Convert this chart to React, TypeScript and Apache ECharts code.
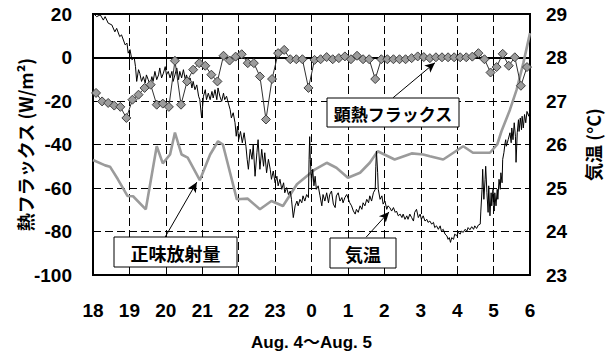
import { useEffect, useRef } from "react";
import * as echarts from "echarts";

// Sensible heat flux (W/m2), 10-minute means, time in minutes after 18:00
const sensibleMinutes = [
  5, 15, 25, 35, 45, 55, 65, 75, 85, 95, 105, 115, 125, 135, 145, 155, 165, 175,
  185, 195, 205, 215, 225, 235, 245, 255, 265, 275, 285, 295, 305, 315, 325, 335,
  345, 355, 365, 375, 385, 395, 405, 415, 425, 435, 445, 455, 465, 475, 485, 495,
  505, 515, 525, 535, 545, 555, 565, 575, 585, 595, 605, 615, 625, 635, 645, 655,
  665, 675, 685, 695, 705, 715,
];
const sensibleFlux = [
  -16.3, -20.2, -20.9, -22.1, -22.7, -27.8, -19.4, -17.1, -14.0, -12.5, -21.7, -21.2,
  -22.7, -1.5, -21.7, -11.0, -5.6, -2.6, -3.8, -7.9, -11.0, 0.8, -1.4, 0.4,
  1.5, -2.6, -2.6, -8.7, -28.5, -9.9, 2.0, 3.5, -0.8, -0.8, -0.8, -14.0,
  -1.1, -0.8, 0.2, -0.8, -0.3, 0.5, -0.8, 0.8, -0.8, -0.8, -9.9, -0.8,
  -0.8, -0.8, -0.8, -0.8, -0.3, 0.5, 0.2, -0.3, 0.1, 0.1, 0.1, 0.1,
  0.1, 0.1, 0.4, 2.0, -0.8, -6.9, -4.4, 1.7, -3.8, 0.1, -13.0, -4.4,
];

// Net radiation (W/m2)
const netRadMinutes = [
  0, 20, 28, 41, 57, 66, 87, 105, 115, 127, 135, 146, 156, 176, 193, 206, 214, 237,
  255, 275, 294, 313, 336, 366, 385, 401, 420, 440, 456, 469, 497, 525, 544, 555,
  577, 610, 626, 654, 666, 673, 687, 698, 709, 720,
];
const netRadFlux = [
  -47.1, -49.6, -50.2, -56.0, -63.7, -63.8, -69.8, -40.8, -48.7, -44.6, -34.5, -44.6,
  -46.0, -56.4, -44.6, -38.5, -40.0, -65.2, -64.9, -69.8, -66.0, -68.3, -58.3, -51.4,
  -48.4, -50.7, -55.3, -53.0, -48.4, -43.1, -46.9, -44.1, -44.6, -45.4, -46.9, -40.8,
  -43.8, -43.8, -40.0, -33.9, -24.0, -14.8, -2.6, 11.2,
];

// Air temperature (°C)
const tempMinutes = [
  0, 6, 12, 17, 20, 25, 31, 36, 39, 44,
  47, 53, 56, 58, 61, 64, 68, 70, 72, 75,
  77, 80, 83, 86, 88, 91, 94, 97, 99, 102,
  105, 108, 110, 113, 116, 119, 121, 124, 127, 130,
  132, 135, 138, 141, 143, 146, 149, 152, 154, 157,
  160, 163, 165, 168, 171, 174, 176, 179, 182, 185,
  187, 190, 193, 196, 198, 201, 204, 206, 209, 212,
  215, 217, 220, 223, 226, 228, 231, 234, 236, 238,
  240, 243, 246, 249, 252, 254, 256, 259, 262, 264,
  267, 270, 272, 275, 278, 281, 283, 286, 289, 292,
  294, 297, 300, 303, 305, 308, 311, 314, 316, 319,
  322, 325, 327, 330, 333, 336, 338, 341, 344, 346,
  349, 352, 355, 356, 357, 358, 360, 362, 364, 366,
  368, 371, 374, 377, 379, 382, 385, 388, 390, 393,
  396, 399, 401, 404, 407, 410, 412, 415, 418, 421,
  423, 426, 429, 432, 434, 437, 440, 443, 445, 448,
  451, 454, 456, 459, 462, 465, 466, 467, 469, 470,
  473, 476, 478, 481, 484, 486, 489, 492, 495, 498,
  500, 503, 506, 509, 511, 514, 517, 519, 522, 525,
  528, 530, 533, 536, 539, 541, 544, 547, 550, 552,
  555, 558, 561, 563, 566, 569, 572, 574, 577, 580,
  583, 585, 587, 589, 591, 594, 596, 599, 602, 605,
  607, 610, 613, 616, 618, 621, 624, 627, 629, 632,
  635, 638, 639, 641, 642, 644, 646, 647, 649, 651,
  652, 654, 656, 657, 659, 661, 662, 664, 666, 667,
  669, 671, 672, 674, 675, 677, 679, 680, 681, 684,
  687, 689, 690, 692, 694, 696, 697, 699, 701, 702,
  704, 706, 707, 709, 711, 713, 715, 718, 720,
];
const airTemp = [
  29.02, 28.94, 28.98, 28.86, 28.94, 28.79, 28.75, 28.59, 28.67, 28.48,
  28.52, 28.29, 28.33, 28.10, 28.18, 27.95, 27.99, 27.79, 27.45, 27.72,
  27.64, 27.45, 27.56, 27.41, 27.60, 27.49, 27.37, 27.56, 27.45, 27.68,
  27.49, 27.60, 27.76, 27.53, 27.64, 27.79, 27.60, 27.68, 27.53, 27.68,
  27.45, 27.60, 27.76, 27.49, 27.68, 27.53, 27.72, 27.49, 27.60, 27.45,
  27.53, 27.30, 27.45, 27.26, 27.37, 27.11, 27.03, 26.61, 27.11, 27.26,
  27.03, 27.18, 27.03, 27.22, 27.07, 27.26, 27.03, 27.30, 27.11, 26.99,
  27.18, 27.03, 27.11, 26.95, 26.80, 26.61, 26.73, 26.50, 26.19, 26.42,
  26.11, 26.30, 26.04, 26.27, 25.96, 25.66, 25.43, 25.89, 25.66, 26.00,
  25.27, 25.81, 26.11, 25.43, 25.89, 25.50, 25.81, 25.35, 25.66, 25.43,
  25.20, 25.39, 25.12, 25.27, 25.05, 25.20, 24.97, 25.12, 24.89, 25.01,
  24.85, 24.93, 24.74, 24.32, 24.59, 24.70, 24.59, 24.74, 24.66, 24.82,
  24.70, 24.85, 24.78, 25.66, 26.18, 25.66, 25.12, 25.43, 25.05, 25.27,
  24.97, 25.05, 24.82, 24.59, 24.85, 24.70, 24.89, 24.66, 24.85, 24.93,
  24.63, 24.55, 24.82, 24.89, 24.70, 24.78, 24.66, 24.78, 24.85, 24.74,
  24.66, 24.59, 24.47, 24.40, 24.51, 24.44, 24.59, 24.51, 24.66, 24.59,
  24.74, 24.66, 24.82, 24.70, 24.89, 24.97, 25.50, 25.85, 25.35, 24.97,
  24.74, 24.82, 24.63, 24.70, 24.51, 24.59, 24.55, 24.47, 24.55, 24.44,
  24.47, 24.36, 24.40, 24.32, 24.40, 24.28, 24.36, 24.28, 24.40, 24.32,
  24.24, 24.44, 24.51, 24.32, 24.40, 24.28, 24.36, 24.24, 24.28, 24.21,
  24.24, 24.17, 24.21, 24.09, 24.13, 24.05, 24.13, 24.01, 24.05, 23.94,
  23.90, 23.82, 23.86, 23.75, 23.86, 23.82, 23.94, 23.90, 23.98, 23.94,
  24.01, 23.98, 24.05, 24.01, 24.09, 24.04, 24.11, 24.05, 24.13, 24.07,
  24.15, 24.17, 24.47, 24.97, 25.43, 24.74, 25.20, 25.50, 24.89, 24.44,
  25.05, 24.36, 24.89, 24.59, 24.97, 24.47, 24.89, 24.59, 24.97, 24.74,
  25.20, 24.97, 25.35, 25.12, 25.66, 25.81, 26.04, 26.11, 25.96, 26.11,
  26.27, 26.04, 26.38, 26.11, 26.50, 26.19, 25.59, 26.27, 26.57, 26.30,
  26.61, 26.34, 26.65, 26.38, 26.69, 26.50, 26.76, 26.65, 26.80,
];

// Hour of day at the left edge of the time axis
const startHour = 18;

const FONT = "'Liberation Sans', 'Noto Sans CJK JP', Arial, sans-serif";
const CJK = "'Noto Sans CJK JP', 'Liberation Sans', sans-serif";

const toPairs = (mins: number[], vals: number[]) =>
  mins.map((m, i) => [m / 60, vals[i]]);

const dashed = { type: [8, 4] as number[], color: "#000", width: 1 };

function makeBox(x: number, y: number, w: number, h: number, text: string, size: number) {
  return {
    type: "group",
    children: [
      {
        type: "rect",
        shape: { x, y, width: w, height: h },
        style: { fill: "#fff", stroke: "#000", lineWidth: 1 },
        z: 100,
      },
      {
        type: "text",
        x: x + w / 2,
        y: y + h / 2 + 1,
        style: {
          text,
          font: `bold ${size}px ${CJK}`,
          fill: "#000",
          align: "center",
          verticalAlign: "middle",
        },
        z: 101,
      },
    ],
  };
}

export default function App() {
  const ref = useRef<HTMLDivElement>(null);

  useEffect(() => {
    if (!ref.current) return;
    const chart = echarts.init(ref.current, null, { renderer: "svg" });

    const hourAxisBase = {
      type: "value",
      min: 0,
      max: 12,
      interval: 1,
    };

    chart.setOption({
      animation: false,
      backgroundColor: "#fff",
      grid: {
        left: 93,
        right: 83,
        top: 14,
        bottom: 80,
        show: true,
        borderColor: "#000",
        borderWidth: 2,
        backgroundColor: "transparent",
      },
      xAxis: [
        {
          ...hourAxisBase,
          position: "bottom",
          axisLine: { show: true, onZero: false, lineStyle: { color: "#000", width: 2 } },
          axisTick: { show: true, inside: true, length: 4, lineStyle: { color: "#000" } },
          axisLabel: {
            formatter: (v: number) => String((startHour + v) % 24),
            fontSize: 19,
            fontWeight: "bold",
            fontFamily: FONT,
            color: "#000",
            margin: 26,
          },
          splitLine: { show: true, lineStyle: dashed },
          name: "Aug. 4〜Aug. 5",
          nameLocation: "middle",
          nameGap: 59,
          nameMoveOverlap: false,
          nameTextStyle: { fontSize: 17, fontWeight: "bold", fontFamily: FONT, color: "#000" },
        },
        {
          ...hourAxisBase,
          position: "bottom",
          axisLine: {
            show: true,
            onZero: true,
            onZeroAxisIndex: 0,
            lineStyle: { color: "#000", width: 2 },
          },
          axisTick: { show: true, inside: true, length: 5, lineStyle: { color: "#000" } },
          axisLabel: { show: false },
          splitLine: { show: false },
        },
        {
          ...hourAxisBase,
          position: "bottom",
          axisLine: {
            show: true,
            onZero: true,
            onZeroAxisIndex: 0,
            lineStyle: { color: "#000", width: 2 },
          },
          axisTick: { show: true, inside: false, length: 5, lineStyle: { color: "#000" } },
          axisLabel: { show: false },
          splitLine: { show: false },
        },
      ],
      yAxis: [
        {
          type: "value",
          min: -100,
          max: 20,
          interval: 20,
          position: "left",
          axisLine: { show: true, lineStyle: { color: "#000", width: 2 } },
          axisTick: { show: false },
          axisLabel: {
            fontSize: 19,
            fontWeight: "bold",
            fontFamily: FONT,
            color: "#000",
            margin: 21,
          },
          splitLine: { show: true, lineStyle: dashed },
          name: "熱フラックス (W/m²)",
          nameLocation: "middle",
          nameGap: 59,
          nameMoveOverlap: false,
          nameRotate: 90,
          nameTextStyle: { fontSize: 18, fontWeight: "bold", fontFamily: CJK, color: "#000" },
        },
        {
          type: "value",
          min: 23,
          max: 29,
          interval: 1,
          position: "right",
          axisLine: { show: true, lineStyle: { color: "#000", width: 2 } },
          axisTick: { show: false },
          axisLabel: {
            fontSize: 19,
            fontWeight: "bold",
            fontFamily: FONT,
            color: "#000",
            margin: 16,
          },
          splitLine: { show: false },
          name: "気温 (°C)",
          nameLocation: "middle",
          nameGap: 54,
          nameMoveOverlap: false,
          nameRotate: 90,
          nameTextStyle: { fontSize: 18, fontWeight: "bold", fontFamily: CJK, color: "#000" },
        },
      ],
      series: [
        {
          name: "正味放射量",
          type: "line",
          xAxisIndex: 0,
          yAxisIndex: 0,
          data: toPairs(netRadMinutes, netRadFlux),
          symbol: "none",
          lineStyle: { color: "#9b9b9b", width: 2.6 },
          z: 2,
          markLine: {
            silent: true,
            symbol: ["none", "arrow"],
            symbolSize: [7, 10],
            label: { show: false },
            lineStyle: { color: "#000", width: 1, type: "solid" },
            data: [
              [{ coord: [8.24, -18.5] }, { coord: [9.39, -2.4] }],
              [{ coord: [1.98, -82.6] }, { coord: [2.85, -57.3] }],
              [{ coord: [7.5, -82.6] }, { coord: [8.13, -71.0] }],
            ],
          },
        },
        {
          name: "気温",
          type: "line",
          xAxisIndex: 0,
          yAxisIndex: 1,
          data: toPairs(tempMinutes, airTemp),
          symbol: "none",
          lineStyle: { color: "#000", width: 1 },
          z: 3,
        },
        {
          name: "顕熱フラックス",
          type: "line",
          xAxisIndex: 0,
          yAxisIndex: 0,
          data: toPairs(sensibleMinutes, sensibleFlux),
          symbol: "diamond",
          symbolSize: 9,
          showAllSymbol: true,
          itemStyle: { color: "#9c9c9c", borderColor: "#404040", borderWidth: 1 },
          lineStyle: { color: "#303030", width: 1 },
          z: 4,
        },
      ],
      graphic: [
        makeBox(327, 98, 132, 29, "顕熱フラックス", 17),
        makeBox(114, 237, 123, 30, "正味放射量", 18),
        makeBox(330, 238, 66, 30, "気温", 18),
      ],
    });

    return () => chart.dispose();
  }, []);

  return (
    <div
      ref={ref}
      style={{ position: "absolute", left: 0, top: 0, width: 613, height: 356 }}
    />
  );
}
